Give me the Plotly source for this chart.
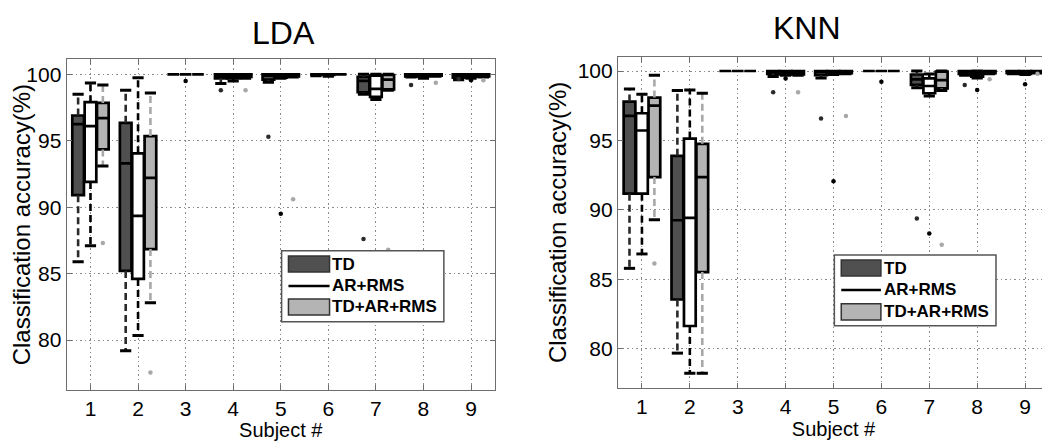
import plotly.graph_objects as go

# ---------------- data ----------------
subjects = [1, 2, 3, 4, 5, 6, 7, 8, 9]
tick_labels = ["1", "2", "3", "4", "5", "6", "7", "8", "9"]
y_ticks = [80, 85, 90, 95, 100]
features = ["TD", "AR+RMS", "TD+AR+RMS"]
panel_titles = ["LDA", "KNN"]

# LDA - TD
lda_td_lo  = [85.9, 79.2, 100, 99.3, 99.4, 99.9, 98.5, 99.8, 99.6]
lda_td_q1  = [90.9, 85.2, 100, 99.7, 99.6, 100, 98.65, 99.85, 99.75]
lda_td_med = [96.25, 93.3, 100, 99.9, 99.9, 100, 99.5, 100, 99.95]
lda_td_q3  = [96.9, 96.35, 100, 100, 100, 100, 99.8, 100, 100]
lda_td_hi  = [98.5, 98.8, 100, 100, 100, 100, 100, 100, 100]
lda_td_out_subj = [4, 5, 7, 8, 9]
lda_td_out_val  = [98.8, 95.3, 87.6, 99.2, 99.65]

# LDA - AR+RMS
lda_ar_lo  = [87.1, 80.35, 100, 99.5, 99.7, 99.85, 98.1, 99.7, 99.7]
lda_ar_q1  = [91.9, 84.6, 100, 99.7, 99.75, 99.95, 98.3, 99.85, 99.8]
lda_ar_med = [96.1, 89.35, 100, 99.9, 99.95, 100, 98.9, 100, 99.95]
lda_ar_q3  = [97.9, 94.05, 100, 100, 100, 100, 99.9, 100, 100]
lda_ar_hi  = [99.35, 99.75, 100, 100, 100, 100, 100, 100, 100]
lda_ar_out_subj = [3, 5, 9]
lda_ar_out_val  = [99.5, 89.5, 99.55]

# LDA - TD+AR+RMS
lda_all_lo  = [93.1, 82.8, 100, 99.7, 99.8, 100, 98.8, 99.85, 99.8]
lda_all_q1  = [94.35, 86.85, 100, 99.8, 99.85, 100, 98.87, 99.9, 99.85]
lda_all_med = [96.7, 92.2, 100, 99.95, 100, 100, 99.6, 100, 99.95]
lda_all_q3  = [97.85, 95.35, 100, 100, 100, 100, 99.95, 100, 100]
lda_all_hi  = [99.2, 98.6, 100, 100, 100, 100, 100, 100, 100]
lda_all_out_subj = [1, 2, 4, 5, 7, 8, 9]
lda_all_out_val  = [87.3, 77.55, 98.8, 90.6, 86.8, 99.37, 99.55]

# KNN - TD
knn_td_lo  = [85.8, 79.7, 100, 99.6, 99.5, 100, 98.8, 99.7, 99.8]
knn_td_q1  = [91.17, 83.56, 100, 99.8, 99.7, 100, 99.0, 99.8, 99.85]
knn_td_med = [96.77, 89.26, 100, 100, 99.95, 100, 99.4, 100, 100]
knn_td_q3  = [97.8, 93.9, 100, 100, 100, 100, 99.75, 100, 100]
knn_td_hi  = [98.7, 98.59, 100, 100, 100, 100, 100, 100, 100]
knn_td_out_subj = [4, 5, 7, 8]
knn_td_out_val  = [98.47, 96.58, 89.38, 98.99]

# KNN - AR+RMS
knn_ar_lo  = [86.84, 78.25, 100, 99.7, 99.75, 100, 98.2, 99.5, 99.75]
knn_ar_q1  = [91.17, 81.65, 100, 99.75, 99.8, 100, 98.4, 99.6, 99.8]
knn_ar_med = [95.72, 89.43, 100, 100, 100, 100, 98.92, 99.8, 99.95]
knn_ar_q3  = [96.96, 95.14, 100, 100, 100, 100, 99.47, 99.9, 100]
knn_ar_hi  = [98.33, 98.64, 100, 100, 100, 100, 99.78, 100, 100]
knn_ar_out_subj = [4, 5, 6, 7, 8, 9]
knn_ar_out_val  = [99.47, 92.06, 99.23, 88.3, 98.63, 99.04]

# KNN - TD+AR+RMS
knn_all_lo  = [89.3, 78.25, 100, 99.7, 99.8, 100, 98.6, 99.8, 99.85]
knn_all_q1  = [92.37, 85.53, 100, 99.75, 99.85, 100, 98.75, 99.85, 99.9]
knn_all_med = [97.51, 92.37, 100, 100, 100, 100, 99.35, 100, 100]
knn_all_q3  = [98.09, 94.76, 100, 100, 100, 100, 99.95, 100, 100]
knn_all_hi  = [99.69, 98.4, 100, 100, 100, 100, 100, 100, 100]
knn_all_out_subj = [1, 4, 5, 7, 8, 9]
knn_all_out_val  = [86.15, 98.47, 96.77, 87.5, 99.4, 99.8]

# ---------------- styling ----------------
FILL = ["#505050", "#ffffff", "#b4b4b4"]
WHISK = ["#2a2a2a", "#000000", "#a8a8a8"]
OUTC = ["#2a2a2a", "#000000", "#a8a8a8"]
OFFSETS = [-0.26, 0.0, 0.26]
BOX_W = 0.245
FONT = "Liberation Sans, Arial, sans-serif"

# page body has an 8px margin: size the figure so it fits the 1050x441 window
PAGE_OFF = 8
FIG_W, FIG_H = 1050 - PAGE_OFF, 441 - PAGE_OFF

def xdom(px0, px1):
    return [(px0 - PAGE_OFF) / FIG_W, (px1 - PAGE_OFF) / FIG_W]

def ydom(py_bottom, py_top):
    return [(FIG_H - (py_bottom - PAGE_OFF)) / FIG_H, (FIG_H - (py_top - PAGE_OFF)) / FIG_H]

def ypaper(py):
    return (FIG_H - (py - PAGE_OFF)) / FIG_H

def xpaper(px):
    return (px - PAGE_OFF) / FIG_W

panels = [
    [  # LDA
        (lda_td_lo, lda_td_q1, lda_td_med, lda_td_q3, lda_td_hi, lda_td_out_subj, lda_td_out_val),
        (lda_ar_lo, lda_ar_q1, lda_ar_med, lda_ar_q3, lda_ar_hi, lda_ar_out_subj, lda_ar_out_val),
        (lda_all_lo, lda_all_q1, lda_all_med, lda_all_q3, lda_all_hi, lda_all_out_subj, lda_all_out_val),
    ],
    [  # KNN
        (knn_td_lo, knn_td_q1, knn_td_med, knn_td_q3, knn_td_hi, knn_td_out_subj, knn_td_out_val),
        (knn_ar_lo, knn_ar_q1, knn_ar_med, knn_ar_q3, knn_ar_hi, knn_ar_out_subj, knn_ar_out_val),
        (knn_all_lo, knn_all_q1, knn_all_med, knn_all_q3, knn_all_hi, knn_all_out_subj, knn_all_out_val),
    ],
]

fig = go.Figure()

for p, series in enumerate(panels):
    xa = "x" if p == 0 else "x2"
    ya = "y" if p == 0 else "y2"
    for k, (lo, q1, med, q3, hi, osub, oval) in enumerate(series):
        xs = [s + OFFSETS[k] for s in subjects]
        wx, wy, cx, cy = [], [], [], []
        for i in range(len(subjects)):
            if hi[i] > q3[i]:
                wx += [xs[i], xs[i], None]
                wy += [q3[i], hi[i], None]
                cx.append(xs[i]); cy.append(hi[i])
            if lo[i] < q1[i]:
                wx += [xs[i], xs[i], None]
                wy += [q1[i], lo[i], None]
                cx.append(xs[i]); cy.append(lo[i])
        # dashed whiskers
        fig.add_trace(go.Scatter(
            x=wx, y=wy, mode="lines", xaxis=xa, yaxis=ya, showlegend=False,
            line=dict(color=WHISK[k], width=2.6, dash="7px,4px"), hoverinfo="skip"))
        # whisker caps
        fig.add_trace(go.Scatter(
            x=cx, y=cy, mode="markers", xaxis=xa, yaxis=ya, showlegend=False,
            marker=dict(symbol="line-ew", size=8, line=dict(color="#000000", width=3)),
            hoverinfo="skip"))
        # box bodies
        fig.add_trace(go.Box(
            x=xs, q1=q1, median=med, q3=q3, lowerfence=q1, upperfence=q3,
            xaxis=xa, yaxis=ya, name=features[k], showlegend=False,
            width=BOX_W, whiskerwidth=0, fillcolor=FILL[k],
            line=dict(color="#000000", width=2.7), boxpoints=False))
        # outliers
        fig.add_trace(go.Scatter(
            x=[s + OFFSETS[k] for s in osub], y=oval, mode="markers",
            xaxis=xa, yaxis=ya, showlegend=False,
            marker=dict(symbol="circle", size=4.5, color=OUTC[k]), hoverinfo="skip"))

axis_common = dict(
    showline=True, linecolor="#6e6e6e", linewidth=1.2, mirror="ticks",
    ticks="inside", ticklen=5, tickcolor="#6e6e6e",
    showgrid=True, gridcolor="#8a8a8a", griddash="1.5px,3px", gridwidth=1.2,
    zeroline=False, tickfont=dict(family=FONT, size=21, color="#000"), automargin=False,
)
xtitle = dict(text="Subject #", font=dict(family=FONT, size=20, color="#000"), standoff=0)
ytitle = dict(text="Classification accuracy(%)", font=dict(family=FONT, size=24, color="#000"), standoff=4)

fig.update_layout(
    width=FIG_W, height=FIG_H, margin=dict(l=0, r=0, t=0, b=0),
    paper_bgcolor="white", plot_bgcolor="white", boxmode="overlay",
    xaxis=dict(domain=xdom(66.7, 494.8), range=[0.5, 9.5], tickmode="array",
               tickvals=subjects, ticktext=tick_labels, anchor="y", title=xtitle, **axis_common),
    yaxis=dict(domain=ydom(390, 59.3), range=[76.24, 101.13], tickvals=y_ticks,
               anchor="x", title=ytitle, **axis_common),
    xaxis2=dict(domain=xdom(618, 1049), range=[0.5, 9.5], tickmode="array",
                tickvals=subjects, ticktext=tick_labels, anchor="y2", title=xtitle, **axis_common),
    yaxis2=dict(domain=ydom(388, 56.7), range=[77.19, 101.03], tickvals=y_ticks,
                anchor="x2", title=ytitle, **axis_common),
)

# panel titles
fig.add_annotation(text=panel_titles[0], x=xpaper(283), y=ypaper(33), xref="paper", yref="paper",
                   xanchor="center", yanchor="middle", showarrow=False,
                   font=dict(family=FONT, size=32, color="#000"))
fig.add_annotation(text=panel_titles[1], x=xpaper(807), y=ypaper(28), xref="paper", yref="paper",
                   xanchor="center", yanchor="middle", showarrow=False,
                   font=dict(family=FONT, size=32, color="#000"))

# custom legends (inside each axes, domain coordinates)
def draw_legend(xa, ya, box, sw_x, rows_y, line_y, text_x):
    xr, yr = xa + " domain", ya + " domain"
    fig.add_shape(type="rect", xref=xr, yref=yr, x0=box[0], x1=box[1], y0=box[2], y1=box[3],
                  line=dict(color="#555", width=1.5), fillcolor="white", layer="above")
    fig.add_shape(type="rect", xref=xr, yref=yr, x0=sw_x[0], x1=sw_x[1],
                  y0=rows_y[0][0], y1=rows_y[0][1], line=dict(color="#333", width=1.5),
                  fillcolor=FILL[0], layer="above")
    fig.add_shape(type="line", xref=xr, yref=yr, x0=sw_x[0], x1=sw_x[1], y0=line_y, y1=line_y,
                  line=dict(color="#000", width=2.5), layer="above")
    fig.add_shape(type="rect", xref=xr, yref=yr, x0=sw_x[0], x1=sw_x[1],
                  y0=rows_y[1][0], y1=rows_y[1][1], line=dict(color="#333", width=1.5),
                  fillcolor=FILL[2], layer="above")
    ys = [(rows_y[0][0] + rows_y[0][1]) / 2, line_y, (rows_y[1][0] + rows_y[1][1]) / 2]
    for name, yy in zip(features, ys):
        fig.add_annotation(text="<b>" + name + "</b>", xref=xr, yref=yr, x=text_x, y=yy,
                           xanchor="left", yanchor="middle", showarrow=False,
                           font=dict(family=FONT, size=17, color="#000"))

draw_legend("x", "y", (0.502, 0.881, 0.2065, 0.421), (0.518, 0.614),
            ((0.357, 0.405), (0.227, 0.275)), 0.3145, 0.616)
draw_legend("x2", "y2", (0.502, 0.877, 0.188, 0.4015), (0.518, 0.610),
            ((0.338, 0.386), (0.205, 0.254)), 0.296, 0.613)

fig.write_html("out.html")
